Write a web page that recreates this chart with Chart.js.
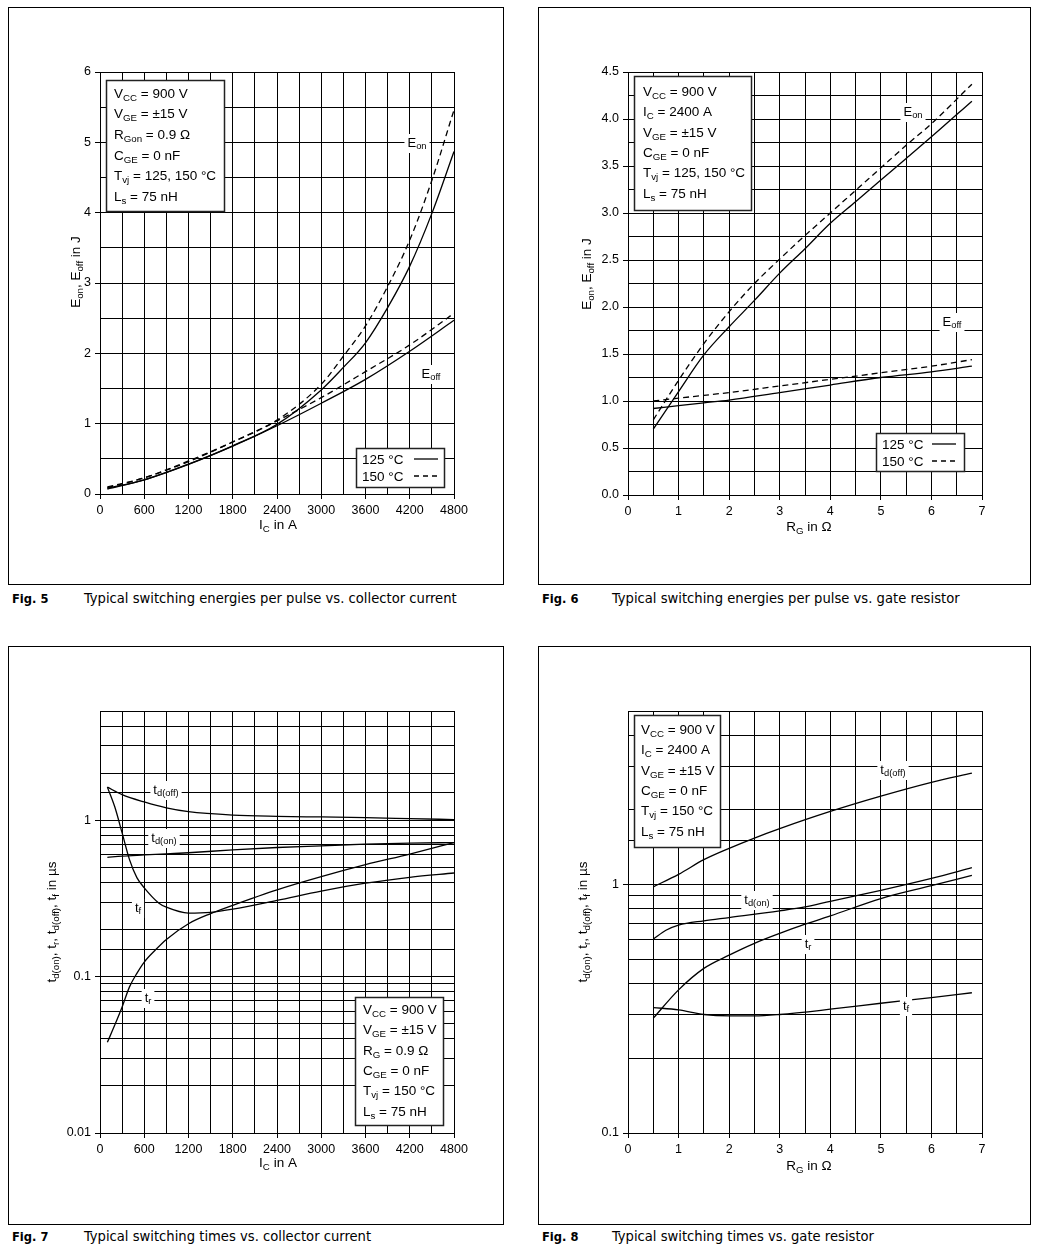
<!DOCTYPE html>
<html>
<head>
<meta charset="utf-8">
<script src="https://cdn.jsdelivr.net/npm/chart.js@4.4.1/dist/chart.umd.min.js"></script>
<style>
  body { margin: 0; background: #fff; width: 1038px; height: 1251px; position: relative; overflow: hidden; }
  .panel { position: absolute; border: 1px solid #000; box-sizing: border-box; }
  .panel canvas { position: absolute; left: 0; top: 0; }
  .cap { position: absolute; color: #000; white-space: nowrap; line-height: 16px; }
  .cap b { position: absolute; left: 0; font: bold 12.8px "DejaVu Sans Condensed", "DejaVu Sans", sans-serif; }
  .cap span { position: absolute; white-space: nowrap; font: 13.3px "DejaVu Sans Condensed", "DejaVu Sans", sans-serif; transform: scaleX(1.1); transform-origin: 0 50%; }
</style>
</head>
<body>
<div class="panel" style="left:8px;top:7px;width:496px;height:578px"><canvas id="c5" width="494" height="576"></canvas></div>
<div class="panel" style="left:538px;top:7px;width:493px;height:578px"><canvas id="c6" width="491" height="576"></canvas></div>
<div class="panel" style="left:8px;top:646px;width:496px;height:579px"><canvas id="c7" width="494" height="577"></canvas></div>
<div class="panel" style="left:538px;top:646px;width:493px;height:579px"><canvas id="c8" width="491" height="577"></canvas></div>

<div class="cap" style="left:12px;top:591px"><b>Fig. 5</b><span style="left:72px">Typical switching energies per pulse vs. collector current</span></div>
<div class="cap" style="left:542px;top:591px"><b>Fig. 6</b><span style="left:70px">Typical switching energies per pulse vs. gate resistor</span></div>
<div class="cap" style="left:12px;top:1229px"><b>Fig. 7</b><span style="left:72px">Typical switching times vs. collector current</span></div>
<div class="cap" style="left:542px;top:1229px"><b>Fig. 8</b><span style="left:70px">Typical switching times vs. gate resistor</span></div>

<script>
// ---- Fig. 5: switching energies vs collector current ----
const fig5IcOn = [100, 600, 1200, 1800, 2400, 3000, 3300, 3600, 3900, 4200, 4500, 4800];
const fig5Eon125 = [0.08, 0.20, 0.425, 0.685, 0.99, 1.48, 1.80, 2.15, 2.65, 3.24, 3.99, 4.87];
const fig5Eon150 = [0.10, 0.23, 0.46, 0.74, 1.05, 1.56, 1.96, 2.39, 2.95, 3.61, 4.46, 5.46];
const fig5IcOff = [100, 600, 1200, 1800, 2400, 3000, 3600, 4200, 4800];
const fig5Eoff125 = [0.07, 0.20, 0.42, 0.68, 0.97, 1.29, 1.63, 2.03, 2.47];
const fig5Eoff150 = [0.09, 0.23, 0.47, 0.74, 1.04, 1.37, 1.74, 2.12, 2.57];

// ---- Fig. 6: switching energies vs gate resistor ----
const fig6RgOn = [0.5, 1, 1.5, 2, 2.5, 3, 3.5, 4, 4.5, 5, 5.5, 6, 6.8];
const fig6Eon125 = [0.70, 1.10, 1.49, 1.79, 2.07, 2.36, 2.62, 2.89, 3.12, 3.35, 3.58, 3.81, 4.19];
const fig6Eon150 = [0.80, 1.22, 1.61, 1.95, 2.25, 2.51, 2.76, 3.00, 3.24, 3.48, 3.72, 3.95, 4.37];
const fig6RgOff = [0.5, 1, 1.5, 2, 3, 4, 5, 6, 6.8];
const fig6Eoff125 = [0.92, 0.95, 0.98, 1.01, 1.09, 1.17, 1.25, 1.31, 1.37];
const fig6Eoff150 = [1.00, 1.03, 1.06, 1.09, 1.16, 1.23, 1.30, 1.37, 1.44];

// ---- Fig. 7: switching times vs collector current (log) ----
const fig7IcD = [100, 300, 600, 900, 1200, 1800, 2400, 3000, 3600, 4200, 4800];
const fig7TdOff = [1.63, 1.46, 1.31, 1.20, 1.135, 1.08, 1.06, 1.05, 1.04, 1.025, 1.01];
const fig7TdOn = [0.58, 0.59, 0.60, 0.61, 0.62, 0.647, 0.67, 0.687, 0.704, 0.714, 0.72];
const fig7IcF = [100, 200, 300, 400, 500, 600, 800, 900, 1200, 1500, 1800, 2400, 3000, 3600, 4200, 4800];
const fig7Tf = [1.63, 1.22, 0.83, 0.56, 0.43, 0.37, 0.295, 0.278, 0.255, 0.258, 0.27, 0.307, 0.352, 0.396, 0.432, 0.46];
const fig7IcR = [100, 200, 300, 400, 500, 600, 750, 900, 1200, 1500, 1800, 2400, 3000, 3600, 4200, 4800];
const fig7Tr = [0.038, 0.049, 0.064, 0.086, 0.105, 0.124, 0.148, 0.173, 0.218, 0.253, 0.286, 0.359, 0.436, 0.52, 0.608, 0.72];

// ---- Fig. 8: switching times vs gate resistor (log) ----
const fig8Rg = [0.5, 1, 1.5, 2, 2.5, 3, 4, 5, 6, 6.8];
const fig8TdOff = [0.98, 1.10, 1.26, 1.40, 1.54, 1.68, 1.97, 2.27, 2.58, 2.81];
const fig8RgOn = [0.5, 0.75, 1, 1.5, 2, 3, 3.5, 4, 5, 6, 6.8];
const fig8TdOn = [0.603, 0.655, 0.687, 0.715, 0.737, 0.784, 0.813, 0.857, 0.949, 1.06, 1.17];
const fig8RgR = [0.5, 1, 1.5, 2, 2.5, 3, 3.5, 4, 5, 6, 6.8];
const fig8Tr = [0.29, 0.377, 0.46, 0.52, 0.58, 0.636, 0.693, 0.748, 0.879, 0.99, 1.09];
const fig8RgF = [0.5, 1, 1.5, 2, 2.5, 3, 4, 5, 6, 6.8];
const fig8Tf = [0.32, 0.313, 0.30, 0.296, 0.296, 0.30, 0.315, 0.333, 0.351, 0.367];

const FONT = '"Liberation Sans", Arial, sans-serif';

function pts(xs, ys) { return xs.map((x, i) => ({ x: x, y: ys[i] })); }

function series(xs, ys, dashed) {
  return {
    data: pts(xs, ys),
    borderColor: '#000',
    borderWidth: 1.3,
    borderDash: dashed ? [6, 4] : [],
    pointRadius: 0,
    fill: false,
    cubicInterpolationMode: 'monotone'
  };
}

// text with _{sub} markup
function parts(str) {
  const out = [];
  const re = /_\{([^}]*)\}/g;
  let last = 0, m;
  while ((m = re.exec(str))) {
    if (m.index > last) out.push([str.slice(last, m.index), false]);
    out.push([m[1], true]);
    last = re.lastIndex;
  }
  if (last < str.length) out.push([str.slice(last), false]);
  return out;
}

function richWidth(ctx, str, size) {
  let w = 0;
  parts(str).forEach(([t, sub]) => {
    ctx.font = (sub ? size * 0.72 : size) + 'px ' + FONT;
    w += ctx.measureText(t).width;
  });
  return w;
}

function richText(ctx, str, x, y, size, align) {
  let w = richWidth(ctx, str, size);
  let cx = align === 'center' ? x - w / 2 : x;
  ctx.textBaseline = 'middle';
  ctx.textAlign = 'left';
  ctx.fillStyle = '#000';
  parts(str).forEach(([t, sub]) => {
    ctx.font = (sub ? size * 0.72 : size) + 'px ' + FONT;
    ctx.fillText(t, cx, sub ? y + size * 0.3 : y);
    cx += ctx.measureText(t).width;
  });
}

const deco = {
  id: 'deco',
  afterDraw(chart, args, o) {
    const ctx = chart.ctx;
    ctx.save();
    ctx.translate(-o.origin[0], -o.origin[1]);

    // curve labels, white knock-out behind
    (o.labels || []).forEach(l => {
      const w = richWidth(ctx, l.text, 13);
      ctx.fillStyle = '#fff';
      ctx.fillRect(l.x - w / 2 - 3, l.y - 9, w + 6, 19);
      richText(ctx, l.text, l.x, l.y, 13, 'center');
    });

    // condition box
    if (o.info) {
      const b = o.info;
      ctx.fillStyle = '#fff';
      ctx.fillRect(b.x1, b.y1, b.x2 - b.x1, b.y2 - b.y1);
      ctx.strokeStyle = '#222';
      ctx.lineWidth = 1.5;
      ctx.strokeRect(b.x1 + 0.5, b.y1 + 0.5, b.x2 - b.x1 - 1, b.y2 - b.y1 - 1);
      b.lines.forEach((t, i) => richText(ctx, t, b.tx, b.ty + i * b.dy, 13.5, 'left'));
    }

    // temperature legend
    if (o.legend) {
      const g = o.legend;
      ctx.fillStyle = '#fff';
      ctx.fillRect(g.x1, g.y1, g.x2 - g.x1, g.y2 - g.y1);
      ctx.strokeStyle = '#222';
      ctx.lineWidth = 1.5;
      ctx.strokeRect(g.x1 + 0.5, g.y1 + 0.5, g.x2 - g.x1 - 1, g.y2 - g.y1 - 1);
      g.items.forEach((it, i) => {
        const y = g.ty + i * g.dy;
        richText(ctx, it.text, g.tx, y, 13.5, 'left');
        ctx.beginPath();
        ctx.setLineDash(it.dash);
        ctx.strokeStyle = '#000';
        ctx.lineWidth = 1.3;
        ctx.moveTo(g.lx1, y - 1);
        ctx.lineTo(g.lx2, y - 1);
        ctx.stroke();
        ctx.setLineDash([]);
      });
    }

    // axis titles
    richText(ctx, o.xTitle.text, o.xTitle.x, o.xTitle.y, 13.5, 'center');
    ctx.save();
    ctx.translate(o.yTitle.x, o.yTitle.y);
    ctx.rotate(-Math.PI / 2);
    richText(ctx, o.yTitle.text, 0, 0, 13.5, 'center');
    ctx.restore();

    ctx.restore();
  }
};

function tickFont() { return { family: FONT, size: 12.5 }; }

function makeChart(id, cfg) {
  const canvas = document.getElementById(id);
  const W = canvas.width, H = canvas.height;
  const area = cfg.area; // [left, top, right, bottom] in canvas px
  new Chart(canvas, {
    type: 'line',
    data: { datasets: cfg.datasets },
    plugins: [deco],
    options: {
      responsive: false,
      animation: false,
      devicePixelRatio: 1,
      layout: { padding: { left: 0, top: area[1], right: W - area[2], bottom: 0 } },
      plugins: {
        legend: { display: false },
        tooltip: { enabled: false },
        deco: cfg.deco
      },
      scales: {
        x: Object.assign({
          type: 'linear',
          afterFit: s => { s.height = H - area[3]; },
          grid: {
            color: '#000', lineWidth: 1, tickLength: 5,
            tickColor: c => (c.tick && cfg.xMajor(c.tick.value)) ? '#000' : 'rgba(0,0,0,0)'
          },
          border: { color: '#000', width: 1 },
          ticks: {
            autoSkip: false, maxRotation: 0, padding: 4, color: '#000', font: tickFont(),
            stepSize: cfg.xStep,
            callback: v => cfg.xMajor(v) ? String(v) : ''
          }
        }, cfg.x),
        y: Object.assign({
          afterFit: s => { s.width = area[0]; },
          grid: {
            color: '#000', lineWidth: 1, tickLength: 5,
            tickColor: c => (c.tick && cfg.yMajor(c.tick.value)) ? '#000' : 'rgba(0,0,0,0)'
          },
          border: { color: '#000', width: 1 },
          ticks: {
            autoSkip: false, padding: 4, color: '#000', font: tickFont(),
            stepSize: cfg.yStep,
            callback: v => cfg.yMajor(v) ? cfg.yFmt(v) : ''
          }
        }, cfg.y)
      }
    }
  });
}

const isDecade = v => { const l = Math.log10(v); return Math.abs(l - Math.round(l)) < 1e-9; };
const legendItems = [{ text: '125 °C', dash: [] }, { text: '150 °C', dash: [5, 4] }];

makeChart('c5', {
  area: [91, 64, 445, 486],
  datasets: [
    series(fig5IcOn, fig5Eon125, false), series(fig5IcOn, fig5Eon150, true),
    series(fig5IcOff, fig5Eoff125, false), series(fig5IcOff, fig5Eoff150, true)
  ],
  x: { min: 0, max: 4800 }, xStep: 300, xMajor: v => v % 600 === 0,
  y: { type: 'linear', min: 0, max: 6 }, yStep: 0.5, yMajor: v => Math.abs(v - Math.round(v)) < 1e-9, yFmt: v => String(v),
  deco: {
    origin: [9, 8],
    labels: [{ text: 'E_{on}', x: 417, y: 143 }, { text: 'E_{off}', x: 431, y: 374 }],
    info: { x1: 106, y1: 80, x2: 225, y2: 212, tx: 114, ty: 94, dy: 20.6,
      lines: ['V_{CC} = 900 V', 'V_{GE} = ±15 V', 'R_{Gon} = 0.9 Ω', 'C_{GE} = 0 nF', 'T_{vj} = 125, 150 °C', 'L_{s} = 75 nH'] },
    legend: { x1: 356, y1: 448, x2: 445, y2: 488, tx: 362, ty: 460, dy: 17, lx1: 414, lx2: 438, items: legendItems },
    xTitle: { text: 'I_{C} in A', x: 278, y: 525 },
    yTitle: { text: 'E_{on}, E_{off} in J', x: 76, y: 272 }
  }
});

makeChart('c6', {
  area: [89, 64, 443, 487],
  datasets: [
    series(fig6RgOn, fig6Eon125, false), series(fig6RgOn, fig6Eon150, true),
    series(fig6RgOff, fig6Eoff125, false), series(fig6RgOff, fig6Eoff150, true)
  ],
  x: { min: 0, max: 7 }, xStep: 0.5, xMajor: v => Math.abs(v - Math.round(v)) < 1e-9,
  y: { type: 'linear', min: 0, max: 4.5 }, yStep: 0.25, yMajor: v => Math.abs(v * 2 - Math.round(v * 2)) < 1e-9, yFmt: v => v.toFixed(1),
  deco: {
    origin: [539, 8],
    labels: [{ text: 'E_{on}', x: 913, y: 112 }, { text: 'E_{off}', x: 952, y: 322 }],
    info: { x1: 634, y1: 76, x2: 752, y2: 211, tx: 643, ty: 92, dy: 20.4,
      lines: ['V_{CC} = 900 V', 'I_{C} = 2400 A', 'V_{GE} = ±15 V', 'C_{GE} = 0 nF', 'T_{vj} = 125, 150 °C', 'L_{s} = 75 nH'] },
    legend: { x1: 876, y1: 433, x2: 965, y2: 472, tx: 882, ty: 445, dy: 17, lx1: 932, lx2: 956, items: legendItems },
    xTitle: { text: 'R_{G} in Ω', x: 809, y: 527 },
    yTitle: { text: 'E_{on}, E_{off} in J', x: 587, y: 274 }
  }
});

makeChart('c7', {
  area: [91, 64, 445, 486],
  datasets: [
    series(fig7IcD, fig7TdOff, false), series(fig7IcD, fig7TdOn, false),
    series(fig7IcF, fig7Tf, false), series(fig7IcR, fig7Tr, false)
  ],
  x: { min: 0, max: 4800 }, xStep: 300, xMajor: v => v % 600 === 0,
  y: { type: 'logarithmic', min: 0.01, max: 5 }, yMajor: isDecade, yFmt: v => String(v),
  deco: {
    origin: [9, 647],
    labels: [
      { text: 't_{d(off)}', x: 166, y: 790 }, { text: 't_{d(on)}', x: 164, y: 838 },
      { text: 't_{f}', x: 138, y: 908 }, { text: 't_{r}', x: 148, y: 998 }
    ],
    info: { x1: 355, y1: 997, x2: 444, y2: 1126, tx: 363, ty: 1010, dy: 20.4,
      lines: ['V_{CC} = 900 V', 'V_{GE} = ±15 V', 'R_{G} = 0.9 Ω', 'C_{GE} = 0 nF', 'T_{vj} = 150 °C', 'L_{s} = 75 nH'] },
    xTitle: { text: 'I_{C} in A', x: 278, y: 1163 },
    yTitle: { text: 't_{d(on)}, t_{r}, t_{d(off)}, t_{f} in µs', x: 52, y: 922 }
  }
});

makeChart('c8', {
  area: [89, 64, 443, 486],
  datasets: [
    series(fig8Rg, fig8TdOff, false), series(fig8RgOn, fig8TdOn, false),
    series(fig8RgR, fig8Tr, false), series(fig8RgF, fig8Tf, false)
  ],
  x: { min: 0, max: 7 }, xStep: 0.5, xMajor: v => Math.abs(v - Math.round(v)) < 1e-9,
  y: { type: 'logarithmic', min: 0.1, max: 5 }, yMajor: isDecade, yFmt: v => String(v),
  deco: {
    origin: [539, 647],
    labels: [
      { text: 't_{d(off)}', x: 893, y: 770 }, { text: 't_{d(on)}', x: 757, y: 900 },
      { text: 't_{r}', x: 808, y: 944 }, { text: 't_{f}', x: 906, y: 1006 }
    ],
    info: { x1: 634, y1: 715, x2: 721, y2: 848, tx: 641, ty: 730, dy: 20.4,
      lines: ['V_{CC} = 900 V', 'I_{C} = 2400 A', 'V_{GE} = ±15 V', 'C_{GE} = 0 nF', 'T_{vj} = 150 °C', 'L_{s} = 75 nH'] },
    xTitle: { text: 'R_{G} in Ω', x: 809, y: 1166 },
    yTitle: { text: 't_{d(on)}, t_{r}, t_{d(off)}, t_{f} in µs', x: 583, y: 922 }
  }
});
</script>
</body>
</html>
